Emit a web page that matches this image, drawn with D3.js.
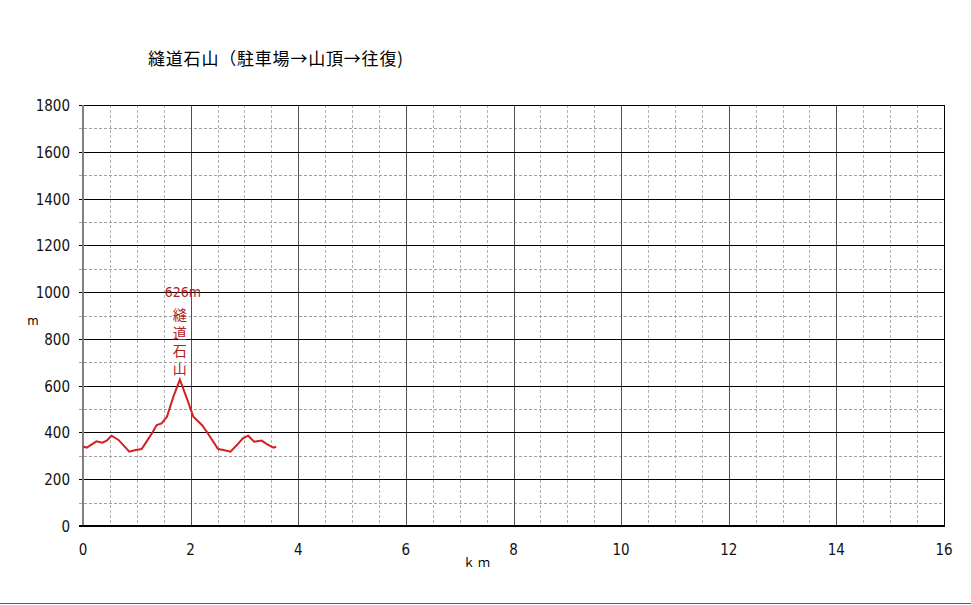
<!DOCTYPE html>
<html>
<head>
<meta charset="utf-8">
<script src="https://cdn.jsdelivr.net/npm/d3@7"></script>
<style>
  body { margin: 0; background: #fff; }
  text { font-family: "DejaVu Sans Condensed", "DejaVu Sans", sans-serif; }
  .jp { font-family: "Noto Sans CJK JP", sans-serif; }
</style>
</head>
<body>
<div id="chart"></div>
<script>
// elevation profile (km, m)
var distKm = [0, 0.07, 0.25, 0.36, 0.44, 0.53, 0.66, 0.86, 0.98, 1.09, 1.28, 1.37, 1.46, 1.56, 1.68, 1.80,
              1.93, 2.05, 2.21, 2.30, 2.51, 2.61, 2.74, 2.86, 2.97, 3.07, 3.18, 3.32, 3.41, 3.54, 3.59];
var elevM  = [340, 335, 362, 356, 365, 386, 368, 318, 325, 329, 396, 432, 439, 467, 553, 626,
              546, 467, 432, 403, 329, 325, 318, 346, 375, 386, 360, 365, 351, 335, 339];
var xTicks = [0, 2, 4, 6, 8, 10, 12, 14, 16];
var yTicks = [0, 200, 400, 600, 800, 1000, 1200, 1400, 1600, 1800];
var peakName = "縫道石山";
var peakLabel = "626m";
var title = "縫道石山（駐車場→山頂→往復)";

var width = 971, height = 605;
var pL = 83, pR = 944, pT = 105, pB = 526;

var x = d3.scaleLinear().domain([0, 16]).range([pL, pR]);
var y = d3.scaleLinear().domain([0, 1800]).range([pB, pT]);

var svg = d3.select("#chart").append("svg")
    .attr("width", width)
    .attr("height", height);

// minor grid (dashed)
svg.append("g").selectAll("line")
    .data(d3.range(0.5, 16, 0.5).filter(function (d) { return d % 2 !== 0; }))
    .enter().append("line")
    .attr("x1", function (d) { return Math.round(x(d)) + 0.5; })
    .attr("x2", function (d) { return Math.round(x(d)) + 0.5; })
    .attr("y1", pT).attr("y2", pB)
    .attr("stroke", "#b0b0b0").attr("stroke-dasharray", "3,2");

svg.append("g").selectAll("line")
    .data(d3.range(100, 1800, 200))
    .enter().append("line")
    .attr("x1", pL - 4).attr("x2", pR)
    .attr("y1", function (d) { return Math.round(y(d)) + 0.5; })
    .attr("y2", function (d) { return Math.round(y(d)) + 0.5; })
    .attr("stroke", "#a0a0a0").attr("stroke-dasharray", "3,2");

// major grid
svg.append("g").selectAll("line")
    .data(xTicks.slice(1))
    .enter().append("line")
    .attr("x1", function (d) { return Math.round(x(d)) + 0.5; })
    .attr("x2", function (d) { return Math.round(x(d)) + 0.5; })
    .attr("y1", pT).attr("y2", pB)
    .attr("stroke", function (d) { return d === 16 ? "#000" : "#505050"; });

svg.append("g").selectAll("line")
    .data(yTicks.slice(1))
    .enter().append("line")
    .attr("x1", pL - 4).attr("x2", pR)
    .attr("y1", function (d) { return Math.round(y(d)) + 0.5; })
    .attr("y2", function (d) { return Math.round(y(d)) + 0.5; })
    .attr("stroke", "#000");

// axes lines
svg.append("line")
    .attr("x1", pL).attr("x2", pL).attr("y1", pT).attr("y2", pB + 1)
    .attr("stroke", "#808080").attr("stroke-width", 2);
svg.append("line")
    .attr("x1", pL - 4).attr("x2", pR + 1).attr("y1", pB).attr("y2", pB)
    .attr("stroke", "#000").attr("stroke-width", 2);

// tick labels
svg.append("g").selectAll("text")
    .data(yTicks)
    .enter().append("text")
    .attr("x", pL - 13)
    .attr("y", function (d) { return y(d) + 6; })
    .attr("text-anchor", "end")
    .attr("font-size", 15)
    .attr("fill", "#111")
    .text(function (d) { return d; });

svg.append("g").selectAll("text")
    .data(xTicks)
    .enter().append("text")
    .attr("x", function (d) { return x(d); })
    .attr("y", pB + 29)
    .attr("text-anchor", "middle")
    .attr("font-size", 15)
    .attr("fill", "#111")
    .text(function (d) { return d; });

// axis titles
svg.append("text")
    .attr("x", 33).attr("y", 325)
    .attr("text-anchor", "middle")
    .attr("font-size", 13)
    .text("m");
svg.append("text")
    .attr("class", "jp")
    .attr("x", 478).attr("y", 567)
    .attr("text-anchor", "middle")
    .attr("font-size", 12)
    .attr("letter-spacing", 3)
    .text("ｋｍ");

// title
svg.append("text")
    .attr("class", "jp")
    .attr("x", 148).attr("y", 65)
    .attr("font-size", 17)
    .attr("letter-spacing", 0.8)
    .attr("fill", "#000")
    .text(title);

// profile line
var line = d3.line()
    .x(function (d, i) { return x(distKm[i]); })
    .y(function (d) { return y(d); });

svg.append("path")
    .datum(elevM)
    .attr("d", line)
    .attr("fill", "none")
    .attr("stroke", "#d42020")
    .attr("stroke-width", 2);

// peak labels
var peakIdx = elevM.indexOf(d3.max(elevM));
var px = x(distKm[peakIdx]);
svg.append("text")
    .attr("x", px + 3).attr("y", 297)
    .attr("text-anchor", "middle")
    .attr("font-size", 14)
    .attr("fill", "#b02020")
    .text(peakLabel);

// vertical peak name
svg.append("text")
    .attr("class", "jp")
    .attr("x", px)
    .attr("y", 308)
    .attr("writing-mode", "vertical-rl")
    .attr("letter-spacing", 4)
    .attr("font-size", 14)
    .attr("fill", "#b02020")
    .text(peakName);

// bottom window border
svg.append("line")
    .attr("x1", 0).attr("x2", width).attr("y1", 603.5).attr("y2", 603.5)
    .attr("stroke", "#606060");
</script>
</body>
</html>
